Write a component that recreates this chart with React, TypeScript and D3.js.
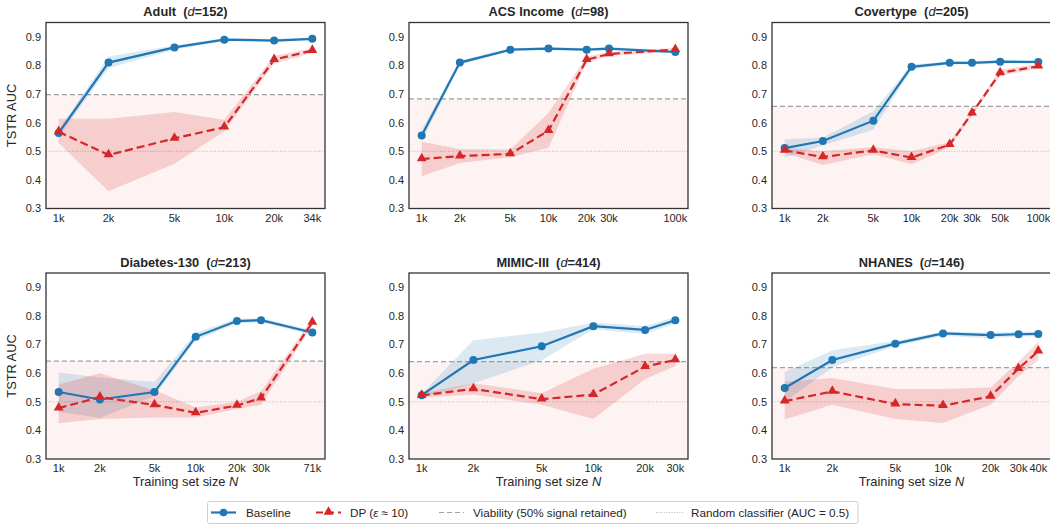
import React from "react";
import * as d3 from "d3";

// ---------- DATA ----------
const adultN = [1000, 2000, 5000, 10000, 20000, 34000];
const adultTicks = ["1k", "2k", "5k", "10k", "20k", "34k"];
const adultBase = [0.564, 0.81, 0.863, 0.89, 0.887, 0.893];
const adultBaseLo = [0.55, 0.791, 0.855, 0.885, 0.882, 0.888];
const adultBaseHi = [0.575, 0.831, 0.87, 0.895, 0.892, 0.898];
const adultDP = [0.568, 0.487, 0.545, 0.584, 0.82, 0.852];
const adultDPLo = [0.529, 0.36, 0.456, 0.57, 0.806, 0.843];
const adultDPHi = [0.614, 0.614, 0.637, 0.61, 0.834, 0.86];
const adultViab = 0.698;

const acsN = [1000, 2000, 5000, 10000, 20000, 30000, 100000];
const acsTicks = ["1k", "2k", "5k", "10k", "20k", "30k", "100k"];
const acsBase = [0.555, 0.81, 0.855, 0.859, 0.855, 0.859, 0.847];
const acsBaseLo = [0.535, 0.802, 0.85, 0.854, 0.85, 0.854, 0.842];
const acsBaseHi = [0.575, 0.818, 0.86, 0.864, 0.86, 0.864, 0.852];
const acsDP = [0.473, 0.483, 0.491, 0.572, 0.82, 0.84, 0.855];
const acsDPLo = [0.413, 0.459, 0.479, 0.512, 0.81, 0.833, 0.848];
const acsDPHi = [0.533, 0.508, 0.506, 0.634, 0.83, 0.848, 0.862];
const acsViab = 0.683;

const coverN = [1000, 2000, 5000, 10000, 20000, 30000, 50000, 100000];
const coverTicks = ["1k", "2k", "5k", "10k", "20k", "30k", "50k", "100k"];
const coverBase = [0.511, 0.536, 0.607, 0.795, 0.809, 0.809, 0.813, 0.812];
const coverBaseLo = [0.477, 0.52, 0.575, 0.786, 0.803, 0.803, 0.807, 0.806];
const coverBaseHi = [0.542, 0.548, 0.64, 0.803, 0.815, 0.815, 0.819, 0.818];
const coverDP = [0.503, 0.48, 0.503, 0.478, 0.523, 0.633, 0.774, 0.797];
const coverDPLo = [0.494, 0.452, 0.49, 0.455, 0.514, 0.625, 0.764, 0.789];
const coverDPHi = [0.511, 0.5, 0.515, 0.5, 0.532, 0.641, 0.785, 0.805];
const coverViab = 0.657;

const diabN = [1000, 2000, 5000, 10000, 20000, 30000, 71000];
const diabTicks = ["1k", "2k", "5k", "10k", "20k", "30k", "71k"];
const diabBase = [0.534, 0.508, 0.534, 0.727, 0.782, 0.785, 0.742];
const diabBaseLo = [0.465, 0.443, 0.52, 0.714, 0.774, 0.778, 0.734];
const diabBaseHi = [0.602, 0.585, 0.569, 0.741, 0.79, 0.792, 0.75];
const diabDP = [0.478, 0.516, 0.489, 0.461, 0.487, 0.513, 0.777];
const diabDPLo = [0.425, 0.44, 0.445, 0.445, 0.475, 0.49, 0.765];
const diabDPHi = [0.56, 0.6, 0.54, 0.48, 0.5, 0.537, 0.79];
const diabViab = 0.642;

const mimicN = [1000, 2000, 5000, 10000, 20000, 30000];
const mimicTicks = ["1k", "2k", "5k", "10k", "20k", "30k"];
const mimicBase = [0.523, 0.646, 0.694, 0.764, 0.751, 0.785];
const mimicBaseLo = [0.515, 0.565, 0.645, 0.753, 0.737, 0.774];
const mimicBaseHi = [0.528, 0.715, 0.742, 0.776, 0.765, 0.796];
const mimicDP = [0.522, 0.545, 0.509, 0.525, 0.623, 0.646];
const mimicDPLo = [0.515, 0.525, 0.49, 0.44, 0.58, 0.625];
const mimicDPHi = [0.53, 0.565, 0.53, 0.615, 0.668, 0.668];
const mimicViab = 0.64;

const nhanesN = [1000, 2000, 5000, 10000, 20000, 30000, 40000];
const nhanesTicks = ["1k", "2k", "5k", "10k", "20k", "30k", "40k"];
const nhanesBase = [0.548, 0.646, 0.703, 0.739, 0.733, 0.736, 0.737];
const nhanesBaseLo = [0.5, 0.62, 0.695, 0.731, 0.722, 0.728, 0.729];
const nhanesBaseHi = [0.604, 0.68, 0.712, 0.746, 0.741, 0.745, 0.745];
const nhanesDP = [0.502, 0.536, 0.492, 0.486, 0.519, 0.616, 0.677];
const nhanesDPLo = [0.438, 0.49, 0.44, 0.426, 0.49, 0.59, 0.645];
const nhanesDPHi = [0.57, 0.583, 0.545, 0.545, 0.55, 0.64, 0.71];
const nhanesViab = 0.619;

const yTicks = [0.3, 0.4, 0.5, 0.6, 0.7, 0.8, 0.9];

const panels = [
  { name: "Adult", d: 152, N: adultN, ticks: adultTicks, base: adultBase, baseLo: adultBaseLo, baseHi: adultBaseHi, dp: adultDP, dpLo: adultDPLo, dpHi: adultDPHi, viab: adultViab },
  { name: "ACS Income", d: 98, N: acsN, ticks: acsTicks, base: acsBase, baseLo: acsBaseLo, baseHi: acsBaseHi, dp: acsDP, dpLo: acsDPLo, dpHi: acsDPHi, viab: acsViab },
  { name: "Covertype", d: 205, N: coverN, ticks: coverTicks, base: coverBase, baseLo: coverBaseLo, baseHi: coverBaseHi, dp: coverDP, dpLo: coverDPLo, dpHi: coverDPHi, viab: coverViab },
  { name: "Diabetes-130", d: 213, N: diabN, ticks: diabTicks, base: diabBase, baseLo: diabBaseLo, baseHi: diabBaseHi, dp: diabDP, dpLo: diabDPLo, dpHi: diabDPHi, viab: diabViab },
  { name: "MIMIC-III", d: 414, N: mimicN, ticks: mimicTicks, base: mimicBase, baseLo: mimicBaseLo, baseHi: mimicBaseHi, dp: mimicDP, dpLo: mimicDPLo, dpHi: mimicDPHi, viab: mimicViab },
  { name: "NHANES", d: 146, N: nhanesN, ticks: nhanesTicks, base: nhanesBase, baseLo: nhanesBaseLo, baseHi: nhanesBaseHi, dp: nhanesDP, dpLo: nhanesDPLo, dpHi: nhanesDPHi, viab: nhanesViab },
];

// ---------- STYLE / LAYOUT ----------
const W = 1050;
const H = 524;
const FONT = "'Liberation Sans', Arial, Helvetica, sans-serif";
const BLUE = "#1f77b4";
const RED = "#d62728";
const TEXT = "#262626";
const colLeft = [46, 409, 772];
const plotW = 279;
const rowTop = [22.5, 273];
const plotH = 186;

function Panel({ p, idx }: { p: any; idx: number }) {
  const col = idx % 3;
  const row = Math.floor(idx / 3);
  const x0 = colLeft[col];
  const y0 = rowTop[row];
  const lmin = Math.log10(p.N[0]);
  const lmax = Math.log10(p.N[p.N.length - 1]);
  const pad = (lmax - lmin) * 0.05;
  const x = d3
    .scaleLog()
    .domain([Math.pow(10, lmin - pad), Math.pow(10, lmax + pad)])
    .range([0, plotW]);
  const y = d3.scaleLinear().domain([0.3, 0.95]).range([plotH, 0]);
  const idxs = p.N.map((_: number, i: number) => i);

  const mkLine = (vals: number[]) =>
    d3
      .line<number>()
      .x((i) => x(p.N[i]))
      .y((i) => y(vals[i]))(idxs) as string;
  const mkArea = (lo: number[], hi: number[]) =>
    d3
      .area<number>()
      .x((i) => x(p.N[i]))
      .y0((i) => y(lo[i]))
      .y1((i) => y(hi[i]))(idxs) as string;
  const tri = d3.symbol().type(d3.symbolTriangle).size(42)() as string;

  return (
    <g transform={`translate(${x0},${y0})`}>
      <defs>
        <clipPath id={`clip${idx}`}>
          <rect x={0} y={0} width={plotW} height={plotH} />
        </clipPath>
      </defs>
      <rect x={0} y={0} width={plotW} height={plotH} fill="#ffffff" />
      <g clipPath={`url(#clip${idx})`}>
        <rect x={0} y={y(p.viab)} width={plotW} height={y(0.3) - y(p.viab)} fill="#fdf3f2" />
        <line x1={0} x2={plotW} y1={y(p.viab)} y2={y(p.viab)} stroke="#a0a0a0" strokeWidth={1.2} strokeDasharray="5,3" />
        <line x1={0} x2={plotW} y1={y(0.5)} y2={y(0.5)} stroke="#b8b8b8" strokeWidth={1} strokeDasharray="1,1.6" />
        <path d={mkArea(p.baseLo, p.baseHi)} fill={BLUE} fillOpacity={0.16} />
        <path d={mkArea(p.dpLo, p.dpHi)} fill={RED} fillOpacity={0.18} />
        <path d={mkLine(p.base)} fill="none" stroke={BLUE} strokeWidth={2.2} />
        {idxs.map((i: number) => (
          <circle key={`b${i}`} cx={x(p.N[i])} cy={y(p.base[i])} r={4} fill={BLUE} />
        ))}
        <path d={mkLine(p.dp)} fill="none" stroke={RED} strokeWidth={2.2} strokeDasharray="8,4" />
        {idxs.map((i: number) => (
          <path key={`d${i}`} d={tri} transform={`translate(${x(p.N[i])},${y(p.dp[i]) - 0.5})`} fill={RED} />
        ))}
      </g>
      <rect x={0} y={0} width={plotW} height={plotH} fill="none" stroke="#333333" strokeWidth={1.3} />
      {yTicks.map((t) => (
        <text key={`y${t}`} x={-5} y={y(t)} dy="0.35em" textAnchor="end" fontSize={11} fill={TEXT} fontFamily={FONT}>
          {t.toFixed(1)}
        </text>
      ))}
      {p.N.map((n: number, i: number) => (
        <text key={`x${i}`} x={x(n)} y={plotH + 13} textAnchor="middle" fontSize={11} fill={TEXT} fontFamily={FONT}>
          {p.ticks[i]}
        </text>
      ))}
      <text x={plotW / 2} y={-6.5} textAnchor="middle" fontSize={12.8} fontWeight="bold" fill={TEXT} fontFamily={FONT}>
        {p.name}
        {"\u00a0\u00a0("}
        <tspan fontStyle="italic" fontWeight="normal">d</tspan>
        {`=${p.d})`}
      </text>
      {col === 0 && (
        <text transform={`translate(-30,${plotH / 2}) rotate(-90)`} textAnchor="middle" fontSize={12.8} fill={TEXT} fontFamily={FONT}>
          TSTR AUC
        </text>
      )}
      {row === 1 && (
        <text x={plotW / 2} y={plotH + 27} textAnchor="middle" fontSize={12.8} fill={TEXT} fontFamily={FONT}>
          Training set size <tspan fontStyle="italic">N</tspan>
        </text>
      )}
    </g>
  );
}

function Legend() {
  const ly = 512.5;
  const tri = d3.symbol().type(d3.symbolTriangle).size(42)() as string;
  return (
    <g fontFamily={FONT} fontSize={11.7} fill={TEXT}>
      <rect x={207.5} y={501.5} width={650.5} height={22} rx={2} fill="#ffffff" stroke="#d0d0d0" strokeWidth={1} />
      <line x1={211} x2={236} y1={ly} y2={ly} stroke={BLUE} strokeWidth={2.2} />
      <circle cx={223.5} cy={ly} r={3.8} fill={BLUE} />
      <text x={246} y={ly} dy="0.35em">Baseline</text>
      <line x1={316} x2={341} y1={ly} y2={ly} stroke={RED} strokeWidth={2.2} strokeDasharray="7,4" />
      <path d={tri} transform={`translate(328.5,${ly - 0.5})`} fill={RED} />
      <text x={350} y={ly} dy="0.35em">
        DP (<tspan fontStyle="italic">ε</tspan> ≈ 10)
      </text>
      <line x1={439} x2={464} y1={ly} y2={ly} stroke="#a0a0a0" strokeWidth={1.2} strokeDasharray="5,3" />
      <text x={473} y={ly} dy="0.35em">Viability (50% signal retained)</text>
      <line x1={656} x2={683} y1={ly} y2={ly} stroke="#b8b8b8" strokeWidth={1} strokeDasharray="1,1.6" />
      <text x={691} y={ly} dy="0.35em">Random classifier (AUC = 0.5)</text>
    </g>
  );
}

export default function App() {
  return (
    <svg width={W} height={H} style={{ position: "absolute", left: 0, top: 0, background: "#ffffff" }}>
      <rect x={0} y={0} width={W} height={H} fill="#ffffff" />
      {panels.map((p, i) => (
        <Panel key={p.name} p={p} idx={i} />
      ))}
      <Legend />
    </svg>
  );
}
